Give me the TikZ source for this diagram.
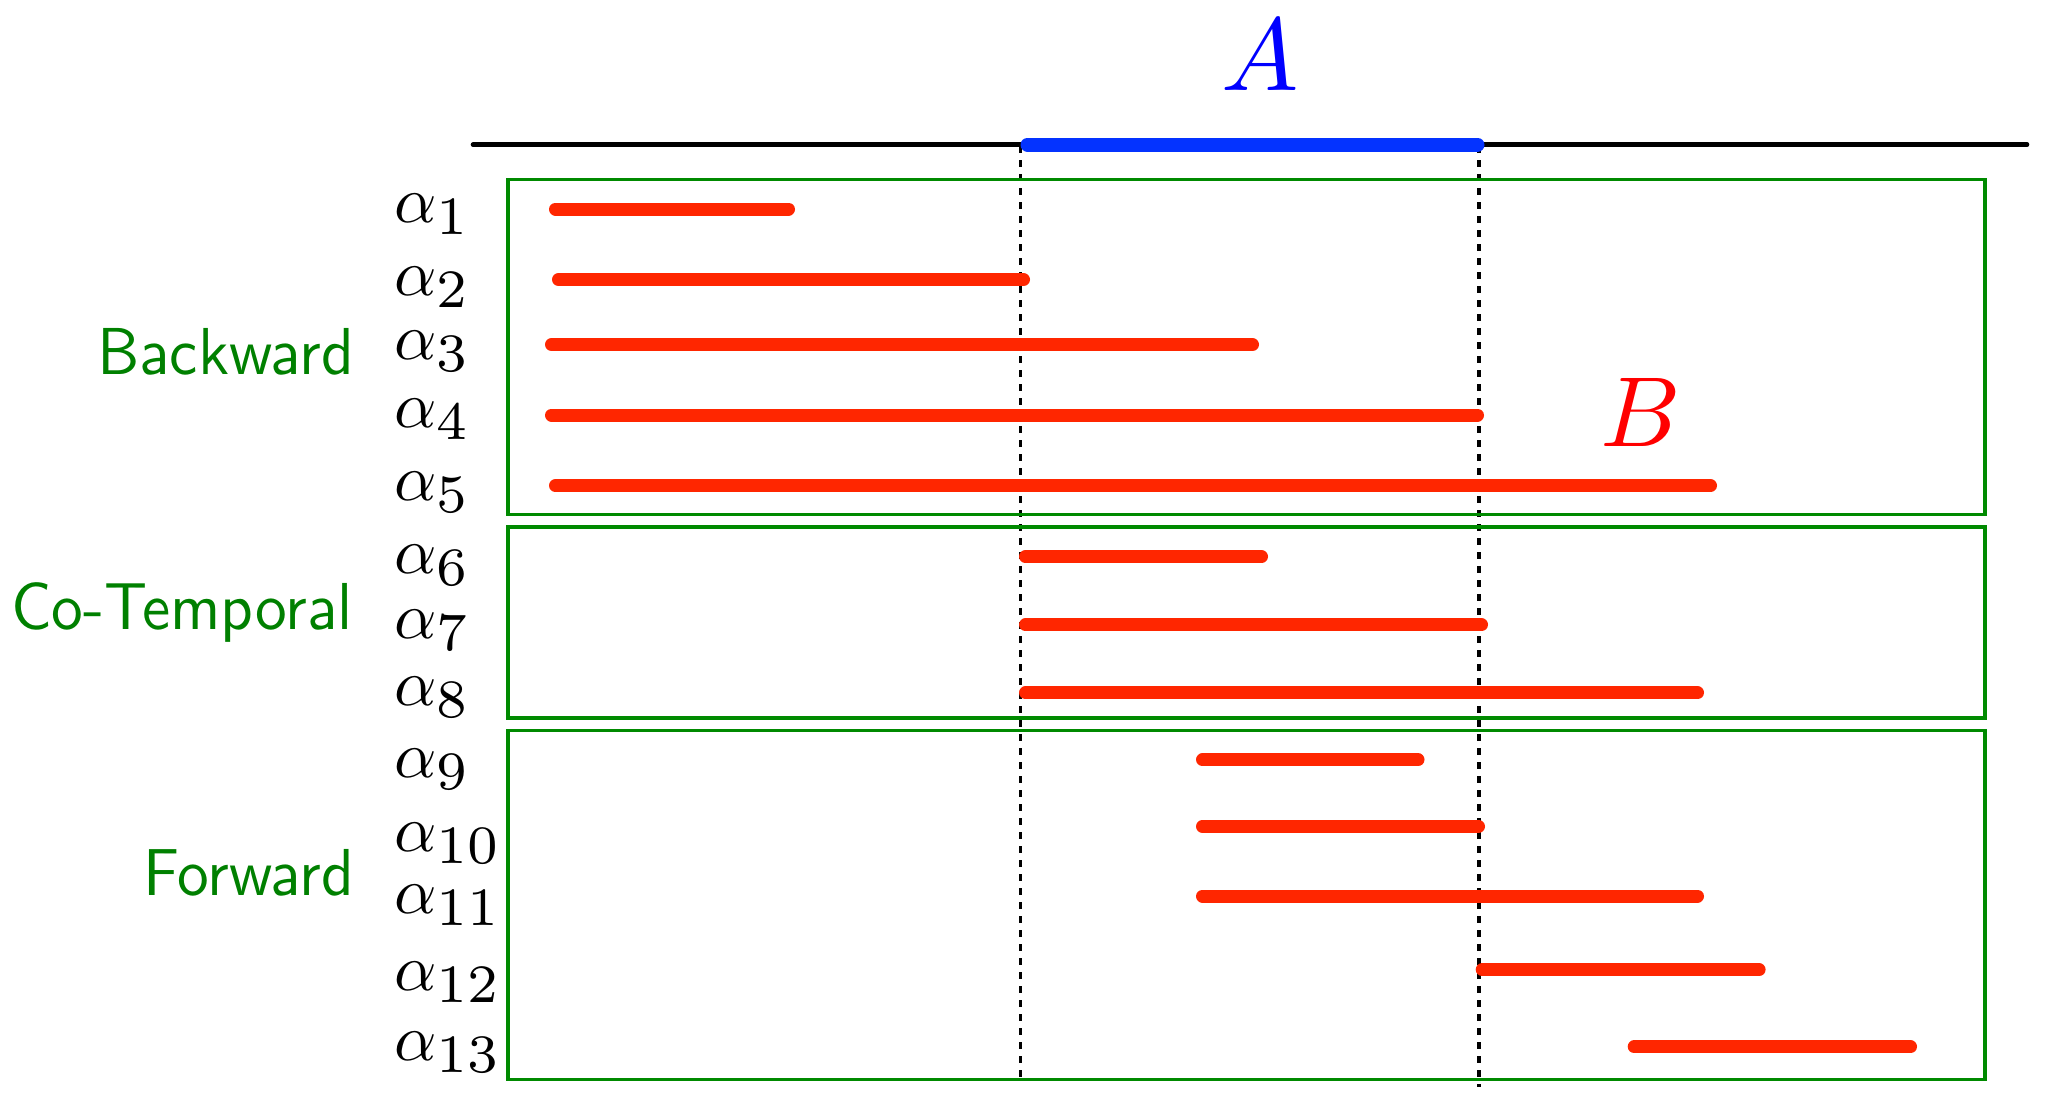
\documentclass[tikz,border=0pt]{standalone}
\definecolor{rbar}{RGB}{255,38,0}
\definecolor{bbar}{RGB}{4,51,255}
\definecolor{gbox}{RGB}{0,138,0}
\definecolor{gtext}{RGB}{0,128,0}
\newcommand{\alab}[1]{$\alpha_{\scalebox{1.17}{$\scriptstyle #1$}}$}
\begin{document}
\begin{tikzpicture}[x=0.25pt,y=-0.25pt,
  bar/.style={line width=3.25pt, draw=rbar, line cap=round},
  grp/.style={draw=gbox, line width=0.9pt},
  glabel/.style={anchor=base east, inner sep=0pt, text=gtext, font=\sffamily, xscale=1.585, yscale=1.66},
  alabel/.style={anchor=base west, inner sep=0pt, scale=1.65},
  guide/.style={line width=0.85pt, dash pattern=on 1.8pt off 1.7pt}]
\useasboundingbox (0,0) rectangle (2055,1113);
% axis
\coordinate (axL) at (473,144.6);
\coordinate (axR) at (2027,144.6);
\coordinate (aL) at (1027.5,144.6);
\coordinate (aR) at (1477.5,144.6);
% guides
\coordinate (g1t) at (1020.7,146);
\coordinate (g1b) at (1020.7,1083);
\coordinate (g2t) at (1479,146);
\coordinate (g2b) at (1479,1087);
\draw[guide] (g1t) -- (g1b);
\draw[guide] (g2t) -- (g2b);
\draw[line width=1.15pt, line cap=round] (axL) -- (axR);
\draw[line width=3.5pt, draw=bbar, line cap=round] (aL) -- (aR);
% group boxes
\draw[grp] (508,179.6) rectangle (1985,514.6);
\draw[grp] (508,526.8) rectangle (1985,717.8);
\draw[grp] (508,730.3) rectangle (1985,1079.4);
% bars
\foreach \a/\b/\y in {549/795/209, 552/1030/279.6, 545/1259/344.6, 545/1484/415, 549/1717/485.7,
  1019/1268/556.7, 1019/1488/624.8, 1019/1704/692.8,
  1196/1424.5/759.8, 1196/1485/826.4, 1196/1704/896, 1475.7/1765.6/969.7, 1627.7/1917/1046.8}
  \draw[bar] (\a+6.5,\y) -- (\b-6.5,\y);
% alpha labels
\foreach \i/\y in {1/222.7, 2/295, 3/359, 4/427, 5/500, 6/573, 7/638, 8/705, 9/777, 10/851, 11/913, 12/990, 13/1060}
  \node[alabel] (l\i) at (393,\y) {\alab{\i}};
% group labels
\node[glabel] (back) at (355,374) {Backward};
\node[glabel] (cot) at (354,629.5) {Co-Temporal};
\node[glabel] (fwd) at (355,895.6) {Forward};
% A and B
\node[anchor=base west, inner sep=0pt, text=blue, scale=2.58] (A) at (1219,90.7) {$A$};
\node[anchor=base west, inner sep=0pt, text=red, scale=2.49] (B) at (1598,446) {$B$};
\end{tikzpicture}
\end{document}
